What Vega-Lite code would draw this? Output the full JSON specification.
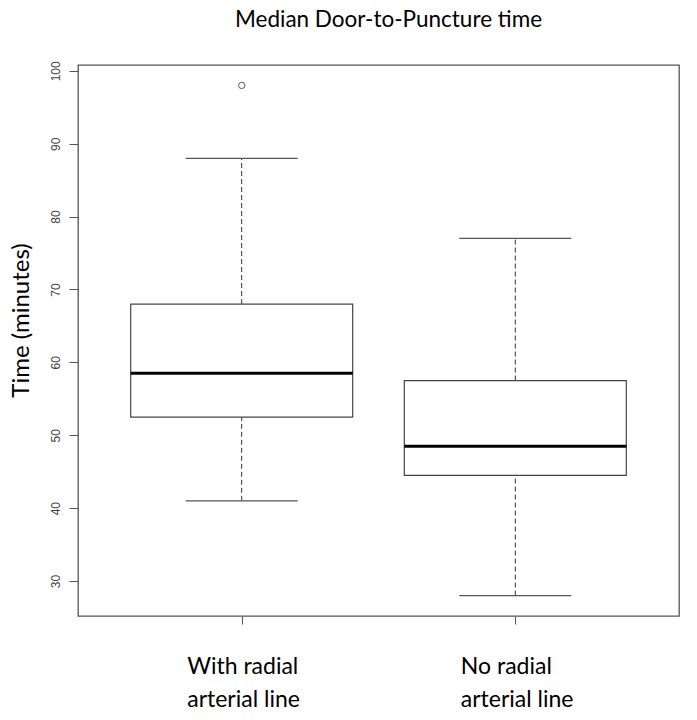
{
  "$schema": "https://vega.github.io/schema/vega-lite/v6.json",
  "width": 601,
  "height": 551,
  "autosize": "none",
  "padding": {"left": 78, "top": 65, "right": 18, "bottom": 104},
  "background": "white",
  "title": {"text": "Median Door-to-Puncture time", "font": "Lato", "fontSize": 22.5, "fontWeight": "normal", "color": "#000", "offset": 29, "dx": 10, "anchor": "middle"},
  "config": {
    "view": {"stroke": "#555", "strokeWidth": 1.3},
    "axisY": {"tickSize": 9, "tickColor": "#555", "domain": false, "grid": false, "labelAngle": -90, "labelAlign": "center", "labelBaseline": "bottom", "labelPadding": 7, "labelFont": "Liberation Sans", "labelFontSize": 12, "labelColor": "#444", "titleFont": "Lato", "titleFontSize": 24, "titleFontWeight": "normal", "titleColor": "#000", "titlePadding": 16, "titleY": 255}
  },
  "datasets": {
    "boxes": [
      {"group": "With radial arterial line", "pos": 1, "lower": 41, "q1": 52.5, "median": 58.5, "q3": 68, "upper": 88},
      {"group": "No radial arterial line", "pos": 2, "lower": 28, "q1": 44.5, "median": 48.5, "q3": 57.5, "upper": 77}
    ],
    "outliers": [
      {"group": "With radial arterial line", "pos": 1, "value": 98}
    ]
  },
  "data": {"name": "boxes"},
  "encoding": {
    "x": {"field": "pos", "type": "quantitative", "scale": {"domain": [0.42, 2.58], "nice": false, "zero": false},
      "axis": {"values": [1, 2], "tickSize": 8, "tickColor": "#555", "domain": false, "grid": false, "title": null,
        "labelExpr": "datum.value == 1 ? ['With radial', 'arterial line'] : ['No radial', 'arterial line']",
        "labelAlign": "left", "labelOffset": -55, "labelFont": "Lato", "labelFontSize": 23, "labelColor": "#000", "labelPadding": 31, "labelBaseline": "top", "labelLineHeight": 33}}
  },
  "layer": [
    {
      "mark": {"type": "rule", "strokeDash": [5, 3], "color": "#333", "strokeWidth": 1},
      "encoding": {
        "y": {"field": "q3", "type": "quantitative", "scale": {"domain": [25.2, 100.8], "nice": false, "zero": false}, "title": "Time (minutes)",
          "axis": {"values": [30, 40, 50, 60, 70, 80, 90, 100]}},
        "y2": {"field": "upper"}
      }
    },
    {
      "mark": {"type": "rule", "strokeDash": [5, 3], "color": "#333", "strokeWidth": 1},
      "encoding": {
        "y": {"field": "lower", "type": "quantitative", "title": "Time (minutes)"},
        "y2": {"field": "q1"}
      }
    },
    {
      "mark": {"type": "bar", "width": 222, "fill": "white", "stroke": "#444", "strokeWidth": 1.2},
      "encoding": {
        "y": {"field": "q1", "type": "quantitative", "title": "Time (minutes)"},
        "y2": {"field": "q3"}
      }
    },
    {
      "mark": {"type": "tick", "orient": "horizontal", "size": 112, "thickness": 1.3, "color": "#555", "opacity": 1},
      "encoding": {
        "y": {"field": "upper", "type": "quantitative", "title": "Time (minutes)"}
      }
    },
    {
      "mark": {"type": "tick", "orient": "horizontal", "size": 112, "thickness": 1.3, "color": "#555", "opacity": 1},
      "encoding": {
        "y": {"field": "lower", "type": "quantitative", "title": "Time (minutes)"}
      }
    },
    {
      "mark": {"type": "tick", "orient": "horizontal", "size": 222, "thickness": 3, "color": "#000", "opacity": 1},
      "encoding": {
        "y": {"field": "median", "type": "quantitative", "title": "Time (minutes)"}
      }
    },
    {
      "data": {"name": "outliers"},
      "mark": {"type": "point", "shape": "circle", "filled": false, "size": 40, "stroke": "#555", "strokeWidth": 1, "opacity": 1},
      "encoding": {
        "y": {"field": "value", "type": "quantitative", "title": "Time (minutes)"}
      }
    }
  ]
}
